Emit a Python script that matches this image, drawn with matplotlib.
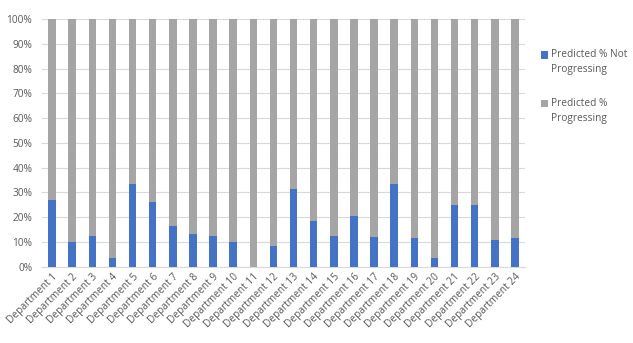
import matplotlib
matplotlib.use("Agg")
import matplotlib.pyplot as plt
from matplotlib.ticker import PercentFormatter
from matplotlib.legend_handler import HandlerPatch
from matplotlib.patches import Rectangle
import numpy as np

departments = [f"Department {i}" for i in range(1, 25)]
not_progressing = [27.1, 10.1, 12.3, 3.5, 33.3, 26.2, 16.4, 13.2, 12.3, 10.1, 0.0, 8.4,
                   31.3, 18.4, 12.4, 20.6, 12.0, 33.5, 11.7, 3.5, 25.0, 25.0, 10.7, 11.7]
progressing = [100 - v for v in not_progressing]
series_labels = ["Predicted % Not\nProgressing", "Predicted %\nProgressing"]
colors = ["#4472C4", "#A5A5A5"]

plt.rcParams['font.family'] = ['Open Sans', 'DejaVu Sans']

fig = plt.figure(figsize=(6.33, 3.43), dpi=100)
ax = fig.add_axes([42/633, 1 - 266.7/343, (525-42)/633, (266.7-19)/343])

x = np.arange(len(departments))
w = 0.37
b1 = ax.bar(x, not_progressing, width=w, color=colors[0], label=series_labels[0], zorder=3)
b2 = ax.bar(x, progressing, width=w, bottom=not_progressing, color=colors[1], label=series_labels[1], zorder=3)

ax.set_ylim(0, 100)
ax.set_xlim(-0.5, len(departments) - 0.5)
ax.set_yticks(np.arange(0, 101, 10))
ax.yaxis.set_major_formatter(PercentFormatter(decimals=0))
ax.grid(axis='y', color='#D9D9D9', linewidth=0.8, zorder=0)
for s in ['top', 'right', 'left']:
    ax.spines[s].set_visible(False)
ax.spines['bottom'].set_color('#D9D9D9')
ax.tick_params(axis='both', length=0, colors='#595959', labelsize=7.3)
ax.tick_params(axis='y', pad=7)
ax.set_xticks(x)
ax.set_xticklabels(departments, rotation=45, ha='right', rotation_mode='anchor')


def top_square(legend, orig_handle, xdescent, ydescent, width, height, fontsize):
    return Rectangle((-xdescent, -ydescent + 5.3), width, height)


h1, h2 = b1.patches[0], b2.patches[0]
hmap = {h1: HandlerPatch(patch_func=top_square), h2: HandlerPatch(patch_func=top_square)}
leg = fig.legend(handles=[h1, h2], labels=series_labels, loc='upper left',
                 bbox_to_anchor=(532/633, 1 - 40/343), frameon=False, fontsize=7.3,
                 handlelength=0.7, handleheight=0.7, handletextpad=0.3, labelspacing=2.3,
                 labelcolor='#595959', handler_map=hmap)
for t in leg.get_texts():
    t.set_linespacing(1.45)

fig.savefig("out.png", dpi=100)
